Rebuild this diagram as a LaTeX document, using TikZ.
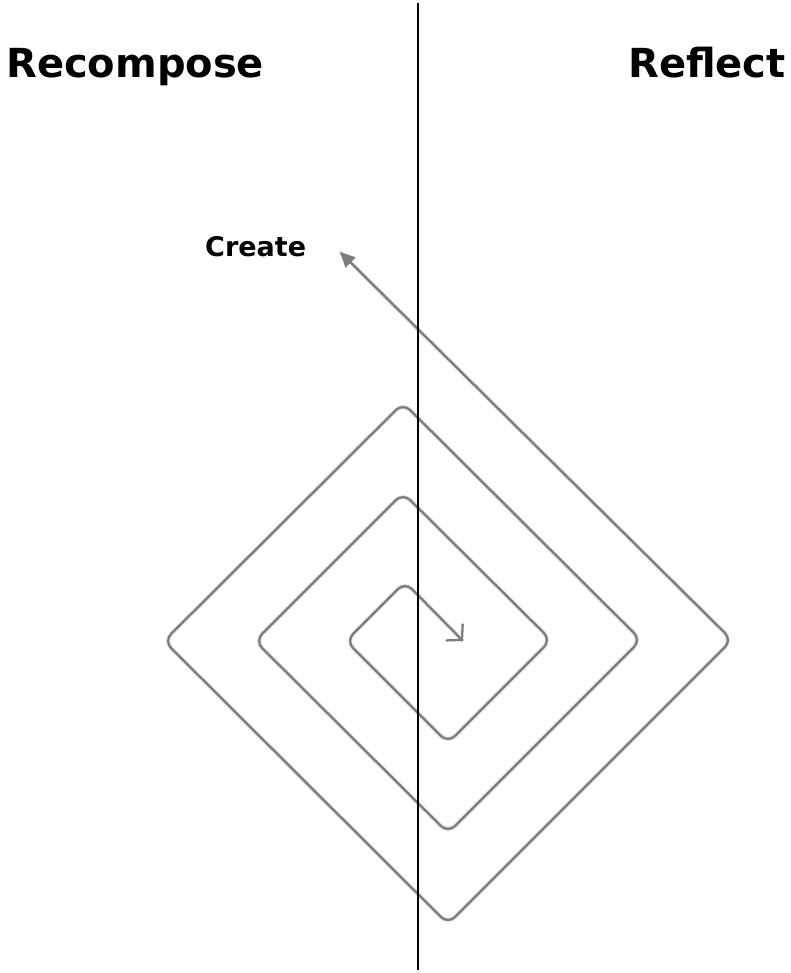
\documentclass[tikz,border=0pt]{standalone}
\usepackage{fontspec}
\newfontfamily\handfont{DejaVu Sans}
\usetikzlibrary{arrows.meta}
\definecolor{ink}{HTML}{000000}
\definecolor{coil}{HTML}{7E7E7E}
\definecolor{shade}{HTML}{E0E0E0}
\tikzset{
  title/.style={font=\handfont\bfseries\fontsize{40}{46}\selectfont,inner sep=0pt},
  lbl/.style={font=\handfont\bfseries\fontsize{27}{31}\selectfont,inner sep=0pt},
  divider/.style={draw=ink,line width=2.7pt},
  coilpath/.style={draw=coil,line width=2.3pt,rounded corners=10pt},
  coilshadow/.style={draw=shade,line width=4pt,rounded corners=10pt,shift={(1.5,2.5)}}}
\begin{document}
\begin{tikzpicture}[x=1pt,y=-1pt]
  \useasboundingbox (0,0) rectangle (791,973);
  % headings and label
  \node[title,anchor=base west] (rec) at (6,78) {Recompose};
  \node[title,anchor=base east] (ref) at (786,78) {Reflect};
  \node[lbl,anchor=base west] (cre) at (205,257) {Create};
  % corners of the spiral
  \coordinate (tip) at (340,252);
  \coordinate (r1) at (732,640);
  \coordinate (b1) at (448,924);
  \coordinate (l1) at (164,641);
  \coordinate (t1) at (403,403);
  \coordinate (r2) at (641,640);
  \coordinate (b2) at (448,833);
  \coordinate (l2) at (255,641);
  \coordinate (t2) at (403,493);
  \coordinate (r3) at (551,640);
  \coordinate (b3) at (448,743);
  \coordinate (l3) at (346,641);
  \coordinate (t3) at (405,582);
  \coordinate (fin) at (463,641);
  \draw[coilshadow] (tip) -- (r1) -- (b1) -- (l1) -- (t1) -- (r2) -- (b2) -- (l2) -- (t2) -- (r3) -- (b3) -- (l3) -- (t3) -- (fin);
  \draw[coilpath,{Triangle[length=15pt,width=14pt]}-{Straight Barb[length=11pt,width=24pt]}]
    (tip) -- (r1) -- (b1) -- (l1) -- (t1) -- (r2) -- (b2) -- (l2) -- (t2) -- (r3) -- (b3) -- (l3) -- (t3) -- (fin);
  % the dividing line
  \coordinate (top) at (418,3);
  \coordinate (bot) at (418,970);
  \draw[divider] (top) -- (bot);
\end{tikzpicture}
\end{document}
